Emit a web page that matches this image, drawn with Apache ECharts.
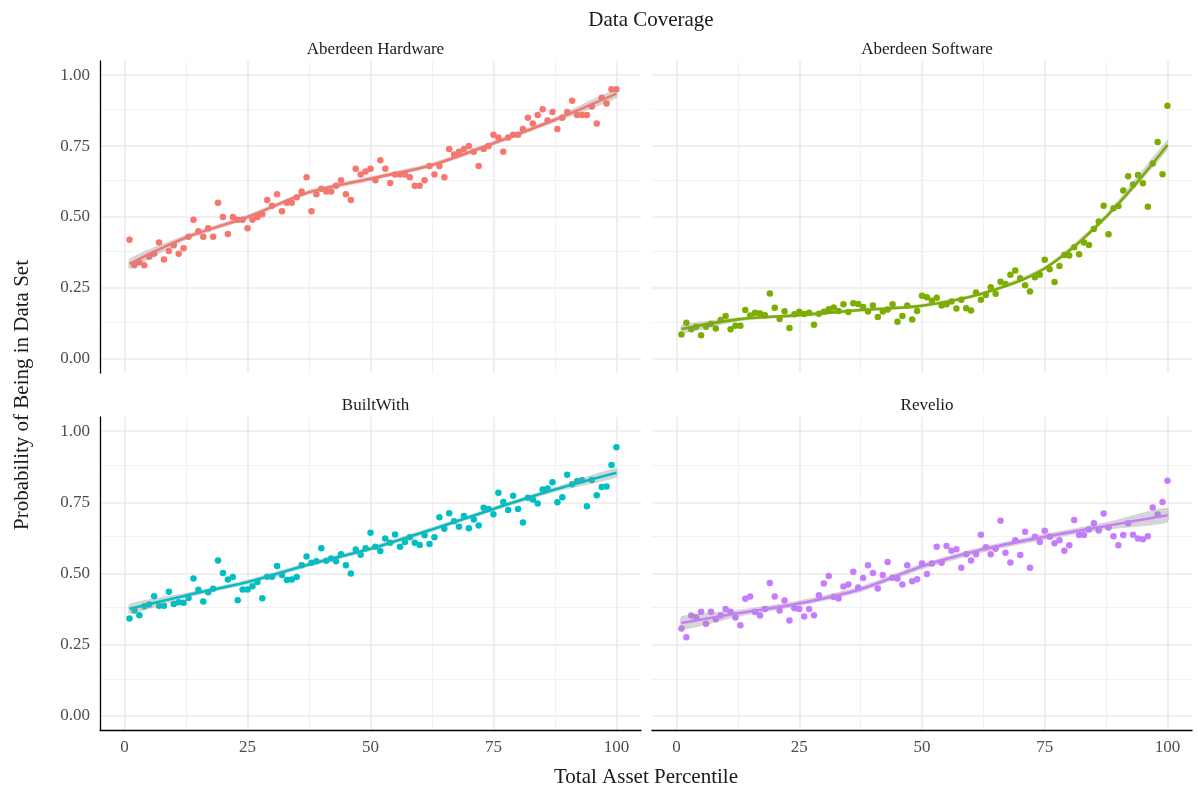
<!DOCTYPE html>
<html>
<head>
<meta charset="utf-8">
<script src="https://cdn.jsdelivr.net/npm/echarts@6/dist/echarts.min.js"></script>
<style>
html,body{margin:0;padding:0;background:#fff;}
#chart{width:1197px;height:794px;}
</style>
</head>
<body>
<div id="chart"></div>
<script>
// ---------- data ----------
const panelNames = ['Aberdeen Hardware', 'Aberdeen Software', 'BuiltWith', 'Revelio'];
const panelColors = ['#F8766D', '#7CAE00', '#00BFC4', '#C77CFF'];
const percentile = Array.from({length: 100}, (_, i) => i + 1);

const hardware = [0.42,0.33,0.34,0.33,0.36,0.37,0.41,0.35,0.38,0.40,
0.37,0.39,0.43,0.49,0.45,0.43,0.46,0.43,0.55,0.50,
0.44,0.50,0.49,0.49,0.46,0.49,0.50,0.51,0.56,0.54,
0.58,0.52,0.55,0.55,0.57,0.59,0.64,0.52,0.58,0.60,
0.59,0.59,0.61,0.63,0.58,0.56,0.67,0.65,0.66,0.67,
0.63,0.70,0.67,0.62,0.65,0.65,0.65,0.64,0.61,0.61,
0.63,0.68,0.65,0.68,0.64,0.74,0.72,0.73,0.74,0.75,
0.73,0.68,0.74,0.75,0.79,0.78,0.73,0.78,0.79,0.79,
0.81,0.85,0.83,0.86,0.88,0.84,0.87,0.81,0.85,0.87,
0.91,0.86,0.86,0.86,0.89,0.83,0.92,0.90,0.95,0.95];

const software = [0.086,0.127,0.104,0.113,0.083,0.113,0.123,0.107,0.137,0.151,
0.104,0.117,0.117,0.172,0.153,0.162,0.160,0.154,0.230,0.180,
0.140,0.168,0.109,0.157,0.166,0.158,0.162,0.120,0.159,0.166,
0.175,0.181,0.169,0.192,0.165,0.196,0.193,0.183,0.167,0.188,
0.147,0.167,0.174,0.192,0.131,0.151,0.188,0.139,0.169,0.222,
0.217,0.205,0.215,0.188,0.192,0.202,0.177,0.208,0.178,0.170,
0.234,0.208,0.225,0.252,0.229,0.272,0.264,0.296,0.311,0.284,
0.259,0.237,0.288,0.296,0.349,0.316,0.271,0.327,0.366,0.364,
0.393,0.369,0.410,0.401,0.458,0.484,0.540,0.439,0.531,0.539,
0.593,0.644,0.615,0.648,0.619,0.536,0.689,0.764,0.651,0.892];

const builtwith = [0.342,0.370,0.353,0.385,0.391,0.420,0.387,0.387,0.436,0.393,
0.399,0.397,0.414,0.482,0.443,0.402,0.434,0.446,0.546,0.502,
0.479,0.488,0.406,0.444,0.444,0.455,0.470,0.413,0.489,0.489,
0.526,0.495,0.477,0.479,0.488,0.529,0.560,0.538,0.543,0.589,
0.545,0.553,0.543,0.568,0.529,0.500,0.584,0.566,0.589,0.643,
0.594,0.579,0.623,0.608,0.637,0.594,0.611,0.627,0.608,0.600,
0.634,0.604,0.627,0.698,0.657,0.712,0.684,0.664,0.702,0.659,
0.690,0.669,0.731,0.727,0.708,0.784,0.751,0.723,0.773,0.727,
0.679,0.766,0.760,0.746,0.795,0.799,0.821,0.750,0.768,0.847,
0.814,0.824,0.828,0.736,0.829,0.775,0.804,0.806,0.881,0.944];

const revelio = [0.307,0.276,0.352,0.346,0.366,0.323,0.366,0.339,0.352,0.375,
0.366,0.345,0.318,0.411,0.419,0.365,0.352,0.375,0.467,0.419,
0.370,0.405,0.335,0.378,0.375,0.349,0.375,0.353,0.424,0.465,
0.491,0.417,0.412,0.454,0.461,0.506,0.451,0.484,0.529,0.502,
0.447,0.495,0.540,0.485,0.482,0.461,0.529,0.473,0.480,0.535,
0.498,0.535,0.594,0.538,0.597,0.580,0.585,0.520,0.568,0.546,
0.568,0.636,0.592,0.568,0.587,0.685,0.573,0.539,0.617,0.565,
0.647,0.520,0.629,0.611,0.650,0.629,0.606,0.617,0.580,0.599,
0.688,0.635,0.635,0.655,0.677,0.651,0.711,0.662,0.631,0.599,
0.635,0.677,0.636,0.623,0.620,0.631,0.732,0.707,0.751,0.826];

// smoothed fit (loess) read at these percentiles, with half-width of the confidence band
const fitX = [1, 12.5, 25, 37.5, 50, 62.5, 75, 87.5, 100];
const hardwareFit  = [0.335, 0.428, 0.500, 0.587, 0.635, 0.683, 0.760, 0.843, 0.935];
const softwareFit  = [0.105, 0.139, 0.154, 0.172, 0.187, 0.231, 0.319, 0.501, 0.754];
const builtwithFit = [0.376, 0.423, 0.470, 0.532, 0.587, 0.655, 0.727, 0.795, 0.854];
const revelioFit   = [0.326, 0.360, 0.395, 0.445, 0.525, 0.585, 0.629, 0.667, 0.705];
const hardwareSE  = [0.018, 0.009, 0.008, 0.008, 0.008, 0.008, 0.008, 0.009, 0.016];
const softwareSE  = [0.015, 0.007, 0.006, 0.006, 0.006, 0.006, 0.007, 0.009, 0.018];
const builtwithSE = [0.018, 0.009, 0.008, 0.008, 0.008, 0.008, 0.008, 0.009, 0.017];
const revelioSE   = [0.024, 0.012, 0.010, 0.010, 0.010, 0.010, 0.010, 0.013, 0.026];

const xTicks = [0, 25, 50, 75, 100];
const xMinor = [12.5, 37.5, 62.5, 87.5];
const yTicks = [0, 0.25, 0.5, 0.75, 1];
const yMinor = [0.125, 0.375, 0.625, 0.875];

// ---------- chart ----------
const FONT = '"Liberation Serif", "DejaVu Serif", serif';
const values = [hardware, software, builtwith, revelio];
const fits = [hardwareFit, softwareFit, builtwithFit, revelioFit];
const ses = [hardwareSE, softwareSE, builtwithSE, revelioSE];

const grids = [
  {left: 100, top: 61, width: 541, height: 312},
  {left: 652, top: 61, width: 540, height: 312},
  {left: 100, top: 417, width: 541, height: 313},
  {left: 652, top: 417, width: 540, height: 313}
];

const xAxes = [], yAxes = [], series = [], titles = [];
titles.push({text: 'Data Coverage', left: 646, top: 5, textAlign: 'center',
  textStyle: {fontFamily: FONT, fontSize: 21, fontWeight: 'normal', color: '#1a1a1a'}});

for (let p = 0; p < 4; p++) {
  const g = grids[p];
  const isBottom = p >= 2, isLeft = p % 2 === 0;
  titles.push({text: panelNames[p], left: g.left + g.width / 2, top: g.top - 25, textAlign: 'center',
    textStyle: {fontFamily: FONT, fontSize: 17, fontWeight: 'normal', color: '#1a1a1a'}});
  xAxes.push({
    type: 'value', gridIndex: p, min: -5, max: 105,
    axisLine: {show: isBottom, onZero: false, lineStyle: {color: '#000', width: 1.3}},
    axisTick: {show: false},
    splitLine: {show: false},
    axisLabel: {show: isBottom, customValues: xTicks, margin: 9,
      fontFamily: FONT, fontSize: 17, color: '#4d4d4d'}
  });
  yAxes.push({
    type: 'value', gridIndex: p, min: -0.05, max: 1.05,
    axisLine: {show: isLeft, onZero: false, lineStyle: {color: '#000', width: 1.3}},
    axisTick: {show: false},
    splitLine: {show: false},
    axisLabel: {show: isLeft, customValues: yTicks, margin: 10,
      formatter: v => v.toFixed(2), fontFamily: FONT, fontSize: 17, color: '#4d4d4d'}
  });
  const gridLines = [];
  xMinor.forEach(v => gridLines.push({xAxis: v, lineStyle: {color: '#f2f2f2', width: 1, type: 'solid'}}));
  yMinor.forEach(v => gridLines.push({yAxis: v, lineStyle: {color: '#f2f2f2', width: 1, type: 'solid'}}));
  xTicks.forEach(v => gridLines.push({xAxis: v, lineStyle: {color: '#ebebeb', width: 1.6, type: 'solid'}}));
  yTicks.forEach(v => gridLines.push({yAxis: v, lineStyle: {color: '#ebebeb', width: 1.6, type: 'solid'}}));

  series.push({
    type: 'scatter', xAxisIndex: p, yAxisIndex: p, z: 2,
    symbolSize: 6.5, itemStyle: {color: panelColors[p], opacity: 1},
    data: percentile.map((x, i) => [x, values[p][i]]),
    markLine: {silent: true, symbol: 'none', label: {show: false}, z: 0, animation: false,
      lineStyle: {type: 'solid'}, data: gridLines},
    animation: false
  });
  // confidence band as a polygon through the library's coordinate system
  const bandData = fitX.map((x, i) => [x, fits[p][i] - ses[p][i], fits[p][i] + ses[p][i]]);
  series.push({
    type: 'custom', xAxisIndex: p, yAxisIndex: p, z: 3, silent: true,
    data: [0],
    renderItem: function (params, api) {
      const upper = bandData.map(d => api.coord([d[0], d[2]]));
      const lower = bandData.map(d => api.coord([d[0], d[1]])).reverse();
      return {
        type: 'polygon', z2: 0,
        shape: {points: upper.concat(lower), smooth: 0.2},
        style: {fill: 'rgba(150,150,150,0.4)', stroke: null}
      };
    },
    animation: false
  });
  series.push({
    type: 'line', xAxisIndex: p, yAxisIndex: p, z: 10,
    smooth: 0.35, symbol: 'none', lineStyle: {color: panelColors[p], width: 2.6},
    data: fitX.map((x, i) => [x, fits[p][i]]), animation: false
  });
}

const chart = echarts.init(document.getElementById('chart'), null, {renderer: 'canvas'});
chart.setOption({
  backgroundColor: '#fff',
  animation: false,
  title: titles,
  grid: grids,
  xAxis: xAxes,
  yAxis: yAxes,
  series: series,
  graphic: [
    {type: 'text', x: 646, y: 777, style: {text: 'Total Asset Percentile', fontFamily: FONT,
      fontSize: 21, fill: '#1a1a1a', align: 'center', verticalAlign: 'middle'}},
    {type: 'text', x: 22, y: 395, rotation: Math.PI / 2, style: {text: 'Probability of Being in Data Set',
      fontFamily: FONT, fontSize: 21, fill: '#1a1a1a', align: 'center', verticalAlign: 'middle'}}
  ]
});
</script>
</body>
</html>
